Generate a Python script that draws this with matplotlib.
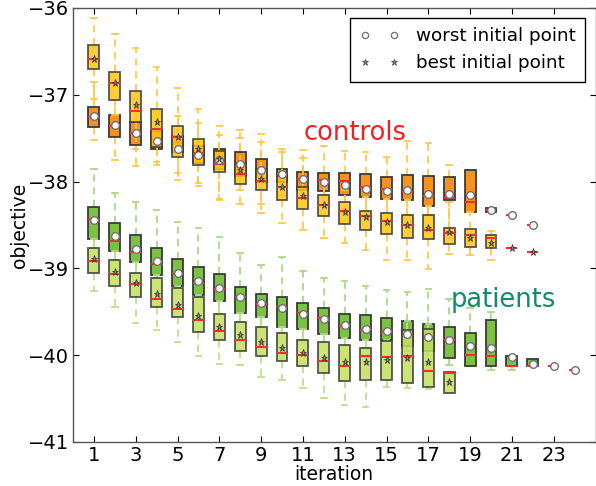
import matplotlib
matplotlib.use('Agg')
import matplotlib.pyplot as plt
from matplotlib.lines import Line2D

# ---------------- data ----------------
# controls, best initial point (yellow boxes, stars)
cb_iter   = list(range(1, 23))
cb_whislo = [-37.05, -37.23, -37.63, -37.77, -37.98, -38.02, -38.21, -38.26, -38.36, -38.48, -38.56,
             -38.65, -38.71, -38.79, -38.90, -38.90, -39.01, -38.83, -38.84, -38.90, -38.76, -38.81]
cb_q1     = [-36.70, -37.06, -37.31, -37.60, -37.72, -37.81, -37.89, -38.03, -38.10, -38.21, -38.31,
             -38.40, -38.49, -38.56, -38.60, -38.65, -38.66, -38.72, -38.75, -38.76, -38.76, -38.81]
cb_med    = [-36.59, -36.86, -37.19, -37.39, -37.49, -37.67, -37.80, -37.91, -37.99, -38.06, -38.19,
             -38.27, -38.34, -38.40, -38.45, -38.50, -38.56, -38.59, -38.61, -38.65, -38.76, -38.81]
cb_q3     = [-36.43, -36.74, -36.96, -37.16, -37.36, -37.51, -37.65, -37.78, -37.85, -37.94, -38.06,
             -38.15, -38.23, -38.34, -38.36, -38.38, -38.39, -38.53, -38.55, -38.61, -38.76, -38.81]
cb_whishi = [-36.12, -36.30, -36.46, -36.68, -36.92, -37.16, -37.36, -37.50, -37.54, -37.66, -37.64,
             -38.00, -38.10, -38.18, -38.20, -38.21, -38.28, -38.23, -38.35, -38.57, -38.76, -38.81]
cb_point  = [-36.59, -36.86, -37.12, -37.31, -37.49, -37.62, -37.74, -37.87, -37.97, -38.06, -38.17,
             -38.27, -38.35, -38.41, -38.46, -38.50, -38.54, -38.58, -38.65, -38.71, -38.76, -38.81]

# controls, worst initial point (orange boxes, circles)
cw_iter   = list(range(1, 23))
cw_whislo = [-37.52, -37.75, -37.82, -37.81, -37.90, -38.05, -38.20, -38.10, -38.26, -38.15, -38.20,
             -38.15, -38.23, -38.34, -38.36, -38.38, -38.39, -38.53, -38.35, -38.35, -38.39, -38.50]
cw_q1     = [-37.37, -37.49, -37.58, -37.63, -37.66, -37.78, -37.86, -37.93, -38.00, -38.00, -38.10,
             -38.11, -38.15, -38.18, -38.20, -38.21, -38.28, -38.21, -38.35, -38.35, -38.39, -38.50]
cw_med    = [-37.26, -37.36, -37.44, -37.52, -37.55, -37.72, -37.76, -37.83, -37.88, -37.91, -37.97,
             -37.98, -37.99, -38.06, -38.09, -38.12, -38.17, -38.19, -38.24, -38.33, -38.39, -38.50]
cw_q3     = [-37.14, -37.23, -37.31, -37.42, -37.48, -37.59, -37.62, -37.66, -37.74, -37.85, -37.89,
             -37.90, -37.90, -37.91, -37.95, -37.92, -37.94, -37.95, -37.87, -38.30, -38.39, -38.50]
cw_whishi = [-36.85, -37.06, -37.05, -37.20, -37.25, -37.32, -37.46, -37.40, -37.45, -37.63, -37.73,
             -37.59, -37.65, -37.66, -37.72, -37.53, -37.55, -37.81, -37.87, -38.30, -38.39, -38.50]
cw_point  = [-37.24, -37.35, -37.44, -37.53, -37.62, -37.69, -37.75, -37.80, -37.87, -37.91, -37.97,
             -38.00, -38.04, -38.08, -38.11, -38.10, -38.14, -38.14, -38.15, -38.33, -38.39, -38.50]

# patients, worst initial point (green boxes, circles)
pw_iter   = list(range(1, 25))
pw_whislo = [-38.76, -38.90, -39.05, -39.11, -39.23, -39.33, -39.53, -39.62, -39.67, -39.74, -39.82, -39.85,
             -39.88, -39.92, -39.84, -39.95, -40.00, -40.11, -40.13, -40.17, -40.17, -40.13, -40.13, -40.17]
pw_q1     = [-38.66, -38.80, -38.93, -39.08, -39.20, -39.31, -39.38, -39.51, -39.56, -39.67, -39.70, -39.76,
             -39.80, -39.83, -39.83, -39.89, -39.95, -40.03, -40.12, -40.12, -40.13, -40.13, -40.13, -40.17]
pw_med    = [-38.43, -38.68, -38.81, -38.95, -39.07, -39.17, -39.24, -39.33, -39.41, -39.45, -39.51, -39.57,
             -39.66, -39.71, -39.73, -39.77, -39.76, -39.83, -40.00, -40.01, -40.12, -40.13, -40.13, -40.17]
pw_q3     = [-38.29, -38.48, -38.62, -38.77, -38.89, -38.98, -39.07, -39.22, -39.29, -39.33, -39.40, -39.46,
             -39.52, -39.54, -39.57, -39.61, -39.64, -39.68, -39.74, -39.59, -40.01, -40.04, -40.13, -40.17]
pw_whishi = [-37.85, -38.13, -38.24, -38.33, -38.46, -38.54, -38.64, -38.82, -38.96, -38.87, -39.03, -39.11,
             -39.15, -39.20, -39.25, -39.27, -39.24, -39.35, -39.46, -39.50, -40.01, -40.04, -40.13, -40.17]
pw_point  = [-38.44, -38.63, -38.78, -38.91, -39.05, -39.15, -39.23, -39.33, -39.40, -39.46, -39.52, -39.58,
             -39.65, -39.70, -39.72, -39.76, -39.79, -39.82, -39.89, -39.92, -40.02, -40.10, -40.13, -40.17]

# patients, best initial point (light green boxes, stars)
pb_iter   = list(range(1, 19))
pb_whislo = [-39.26, -39.44, -39.63, -39.71, -39.85, -40.01, -40.10, -40.11, -40.25, -40.29, -40.38, -40.49,
             -40.57, -40.60, -40.37, -40.38, -40.39, -40.43]
pb_q1     = [-39.05, -39.20, -39.33, -39.44, -39.56, -39.73, -39.83, -39.95, -40.01, -40.07, -40.13, -40.21,
             -40.30, -40.28, -40.29, -40.32, -40.37, -40.43]
pb_med    = [-38.92, -39.06, -39.18, -39.35, -39.47, -39.60, -39.72, -39.83, -39.90, -39.97, -40.00, -40.07,
             -40.12, -40.01, -40.02, -40.01, -40.18, -40.20]
pb_q3     = [-38.76, -38.90, -39.05, -39.11, -39.23, -39.33, -39.53, -39.62, -39.67, -39.74, -39.82, -39.85,
             -39.88, -39.92, -39.84, -39.71, -39.70, -40.19]
pb_whishi = [-38.66, -38.80, -38.93, -39.08, -39.20, -39.31, -39.38, -39.51, -39.56, -39.67, -39.70, -39.76,
             -39.80, -39.83, -39.83, -39.61, -39.64, -40.19]
pb_point  = [-38.89, -39.04, -39.17, -39.29, -39.42, -39.55, -39.67, -39.77, -39.85, -39.92, -39.97, -40.03,
             -40.08, -40.08, -40.05, -40.03, -40.08, -40.31]

xticks = list(range(1, 24, 2))
yticks = [-41, -40, -39, -38, -37, -36]

# ---------------- plot ----------------
fig = plt.figure(figsize=(5.96, 4.86), dpi=100)
ax = fig.add_axes([73/596, 44/486, 522.5/596, 434/486])

def stats(lo, q1, med, q3, hi):
    return [dict(whislo=a, q1=b, med=c, q3=d, whishi=e, fliers=[])
            for a, b, c, d, e in zip(lo, q1, med, q3, hi)]

def draw(it, lo, q1, med, q3, hi, face, wcol, alpha, z):
    bp = ax.bxp(stats(lo, q1, med, q3, hi), positions=it, widths=0.52,
                patch_artist=True, showfliers=False, manage_ticks=False,
                boxprops=dict(facecolor=face, edgecolor='#3a3a3a', linewidth=1.3, alpha=alpha),
                whiskerprops=dict(color=wcol, linestyle=(0, (4, 3)), linewidth=1.3),
                capprops=dict(color=wcol, linewidth=1.3),
                medianprops=dict(color='#ff2a2a', linewidth=1.5))
    for k, arts in bp.items():
        for a in arts:
            a.set_zorder(z)
            if k == 'boxes':
                a.set_zorder(z + 0.5)
            if k == 'medians':
                a.set_zorder(z + 0.6)

draw(cw_iter, cw_whislo, cw_q1, cw_med, cw_q3, cw_whishi, '#f7921e', '#ffc84a', 1.0, 2)
draw(cb_iter, cb_whislo, cb_q1, cb_med, cb_q3, cb_whishi, '#ffc514', '#ffc84a', 0.85, 3)
draw(pw_iter, pw_whislo, pw_q1, pw_med, pw_q3, pw_whishi, '#7cc242', '#a9da86', 1.0, 2)
draw(pb_iter, pb_whislo, pb_q1, pb_med, pb_q3, pb_whishi, '#c3e05e', '#b9e08c', 0.85, 3)

circ = dict(marker='o', linestyle='none', markersize=5.5, markerfacecolor='white',
            markeredgecolor='#707070', markeredgewidth=1.0, zorder=6)
star = dict(marker='*', linestyle='none', markersize=5.2, markerfacecolor='#8c8c8c',
            markeredgecolor='#3c3c3c', markeredgewidth=0.6, zorder=6)
ax.plot(cw_iter, cw_point, **circ)
ax.plot(pw_iter, pw_point, **circ)
ax.plot(cb_iter, cb_point, **star)
ax.plot(pb_iter, pb_point, **star)

ax.text(11.05, -37.52, 'controls', color='#ee2222', fontsize=18.5, ha='left', va='baseline')
ax.text(18.05, -39.45, 'patients', color='#138a6c', fontsize=18.5, ha='left', va='baseline')

ax.set_xlim(0, 25)
ax.set_ylim(-41, -36)
ax.set_xticks(xticks)
ax.set_yticks(yticks)
ax.tick_params(direction='in', top=True, right=True, length=4, width=0.8,
               labelsize=14, pad=3, colors='black')
for s in ax.spines.values():
    s.set_color('#555555')
    s.set_linewidth(1.0)
ax.set_xlabel('iteration', fontsize=13.5, labelpad=0)
ax.set_ylabel('objective', fontsize=13.5, labelpad=-1)

lcirc = dict(marker='o', linestyle='none', markersize=4.5, markerfacecolor='white',
             markeredgecolor='#707070', markeredgewidth=0.9)
lstar = dict(marker='*', linestyle='none', markersize=4.5, markerfacecolor='#8c8c8c',
             markeredgecolor='#3c3c3c', markeredgewidth=0.5)
h1 = Line2D([], [], **lcirc)
h2 = Line2D([], [], **lstar)
leg = ax.legend([h1, h2], ['worst initial point', 'best initial point'], loc='upper right',
                numpoints=2, fontsize=13.2, fancybox=False, framealpha=1, edgecolor='black',
                borderaxespad=0.55, handlelength=2.2, handletextpad=0.9, borderpad=0.5,
                labelspacing=0.5)
leg.get_frame().set_linewidth(1.0)
leg.set_zorder(10)

fig.savefig('out.png', dpi=100)
